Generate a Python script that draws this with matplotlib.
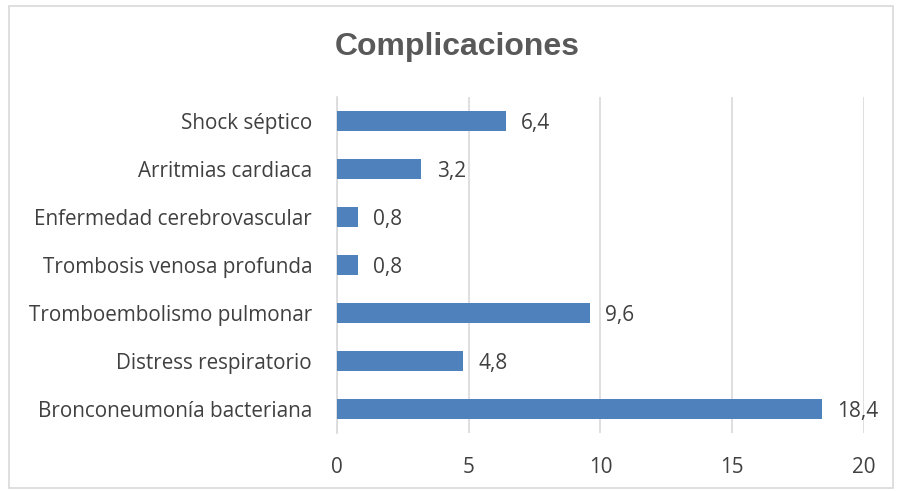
import matplotlib.pyplot as plt
from matplotlib.patches import Rectangle

categorias = ['Bronconeumonía bacteriana', 'Distress respiratorio',
              'Tromboembolismo pulmonar', 'Trombosis venosa profunda',
              'Enfermedad cerebrovascular', 'Arritmias cardiaca', 'Shock séptico']
valores = [18.4, 4.8, 9.6, 0.8, 0.8, 3.2, 6.4]
xticks = [0, 5, 10, 15, 20]

fig = plt.figure(figsize=(8.97, 4.91), dpi=100)
ax = fig.add_axes([0.3757, 0.1181, 0.5875, 0.6843])

pos = list(range(len(categorias)))
ax.barh(pos, valores, height=0.4, color='#4F81BD', zorder=3)
for y, v in zip(pos, valores):
    ax.annotate(str(v).replace('.', ','), (v, y), xytext=(11, -2), textcoords='offset points',
                ha='left', va='center', fontsize=15, color='#404040', family='Open Sans')

ax.set_xlim(0, 20)
ax.set_ylim(-0.5, len(categorias) - 0.5)
ax.set_xticks(xticks)
ax.set_xticklabels([str(t) for t in xticks])
ax.set_yticks(pos)
ax.set_yticklabels(categorias)
for lab in ax.get_xticklabels() + ax.get_yticklabels():
    lab.set_family('Open Sans')
    lab.set_fontsize(14.9)
    lab.set_color('#404040')
ax.tick_params(length=0)
ax.tick_params(axis='x', pad=17)
ax.tick_params(axis='y', pad=18)
ax.grid(axis='x', color='#D9D9D9', linewidth=1.2, zorder=0)
for s in ['top', 'right', 'bottom']:
    ax.spines[s].set_visible(False)
ax.spines['left'].set_color('#D9D9D9')
ax.spines['left'].set_linewidth(1.2)

fig.text(0.51, 0.905, 'Complicaciones', ha='center', va='center', fontsize=23,
         fontweight='bold', color='#595959', family='Liberation Sans')

fig.patches.append(Rectangle((0.01, 0.006), 0.985, 0.982, transform=fig.transFigure,
                             fill=False, edgecolor='#D9D9D9', linewidth=1.2))

fig.savefig('out.png', dpi=100)
